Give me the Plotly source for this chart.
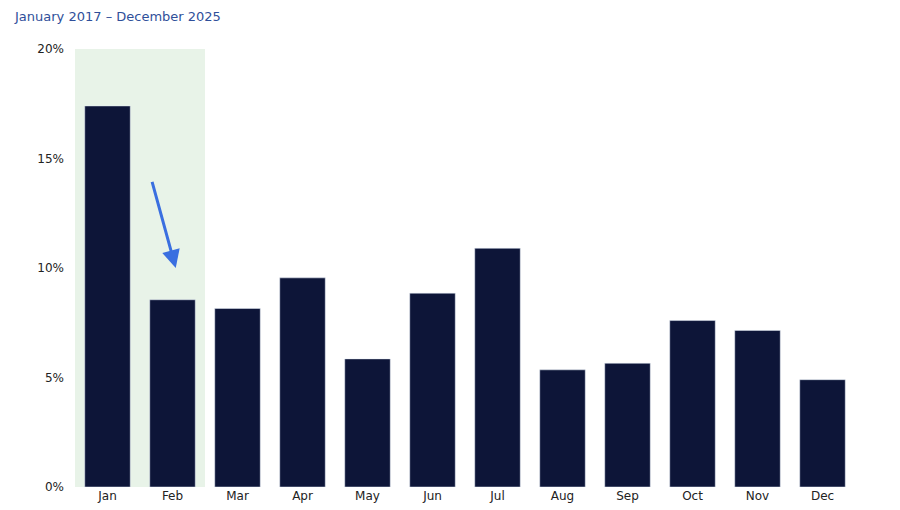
import plotly.graph_objects as go

months = ["Jan","Feb","Mar","Apr","May","Jun","Jul","Aug","Sep","Oct","Nov","Dec"]
values = [17.4, 8.55, 8.15, 9.55, 5.85, 8.85, 10.9, 5.35, 5.65, 7.6, 7.15, 4.9]

fig = go.Figure(go.Bar(x=list(range(12)), y=values, marker_color="#0d1538", width=0.7))
fig.add_shape(type="rect", xref="x", yref="y", x0=-0.5, x1=1.5, y0=0, y1=20,
              fillcolor="#e8f3e8", line_width=0, layer="below")
fig.add_annotation(x=1.05, y=10.0, ax=0.68, ay=14.0, xref="x", yref="y", axref="x", ayref="y",
                   showarrow=True, arrowhead=2, arrowsize=1.2, arrowwidth=3, arrowcolor="#3a6fe0", text="")
fig.update_layout(width=900, height=510, margin=dict(l=67, r=53, t=41, b=31),
                  title=dict(text="January 2017 – December 2025", x=7/900, xref="container",
                             xanchor="left", y=1-4/510, yref="container", yanchor="top",
                             font=dict(size=13, color="#2f4f9a")),
                  plot_bgcolor="white", paper_bgcolor="white", showlegend=False,
                  font=dict(family="DejaVu Sans", size=12, color="#222"))
fig.update_xaxes(tickmode="array", tickvals=list(range(12)), ticktext=months,
                 range=[-0.5, 11.5], showgrid=False, showline=False, ticks="")
fig.update_yaxes(range=[0, 20], tickvals=[0,5,10,15,20], ticktext=["0%","5%","10%","15%","20%"],
                 showgrid=False, zeroline=False, ticks="", ticklabelstandoff=10)
fig.write_html("out.html")
